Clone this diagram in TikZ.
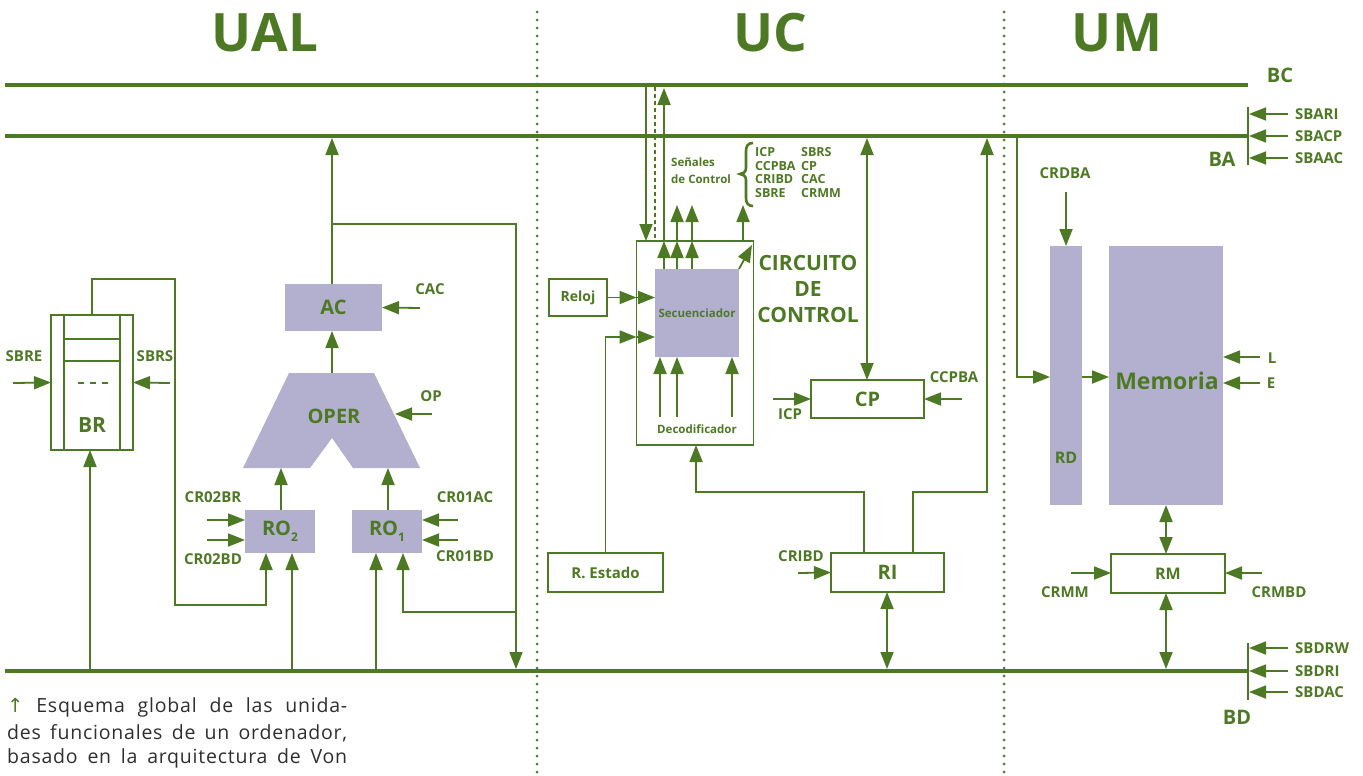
\documentclass[tikz,border=0pt]{standalone}
\usepackage{fontspec}
\setmainfont{Open Sans}
\newfontfamily\symfont{DejaVu Sans}
\usetikzlibrary{arrows.meta}
\definecolor{G}{HTML}{4E7924}
\definecolor{P}{HTML}{B3B0CF}
\definecolor{T}{HTML}{2E2E2E}
\newcommand{\myfs}[1]{\fontsize{#1}{#1}\selectfont}
\tikzset{
  conn/.style={draw=G, line width=1.8pt},
  arr/.style={conn, -{Triangle[length=17pt,width=13pt]}},
  darr/.style={conn, {Triangle[length=17pt,width=13pt]}-{Triangle[length=17pt,width=13pt]}},
  bus/.style={draw=G, line width=4.8pt},
  dots/.style={draw=G, line width=3pt, line cap=round, dash pattern=on 0pt off 8pt},
  wbox/.style={draw=G, line width=1.8pt, fill=white, inner sep=0pt, outer sep=0pt, text=G, font=\bfseries\myfs{20}},
  pbox/.style={fill=P, draw=none, inner sep=0pt, outer sep=0pt, text=G, font=\bfseries\myfs{20}},
  lbl/.style={text=G, font=\bfseries\myfs{15}, inner sep=0pt},
  slbl/.style={text=G, font=\bfseries\myfs{12.5}, inner sep=0pt, anchor=west},
  ttl/.style={text=G, font=\bfseries\myfs{53}, inner sep=0pt},
  captxt/.style={text=T, font=\myfs{19.5}\addfontfeatures{LetterSpace=4}, inner sep=0pt, anchor=west}
}
\begin{document}
\begin{tikzpicture}[x=1pt,y=-1pt]
\useasboundingbox (0,0) rectangle (1363,776);
% section separators
\draw[dots] (537,12) -- (537,776);
\draw[dots] (1004,12) -- (1004,776);
% titles
\node[ttl] (tUAL) at (265,33) {UAL};
\node[ttl] (tUC) at (770,33) {UC};
\node[ttl] (tUM) at (1117,33) {UM};
% buses
\coordinate (BCl) at (5,85); \coordinate (BCr) at (1248,85);
\coordinate (BAl) at (5,136); \coordinate (BAr) at (1248,136);
\coordinate (BDl) at (5,671); \coordinate (BDr) at (1248,671);
\draw[bus] (BCl) -- (BCr);
\draw[bus] (BAl) -- (BAr);
\draw[bus] (BDl) -- (BDr);
\node[lbl,font=\bfseries\myfs{20}] (lBC) at (1280,75) {BC};
\node[lbl,font=\bfseries\myfs{20}] (lBA) at (1222,159) {BA};
\node[lbl,font=\bfseries\myfs{20}] (lBD) at (1237,717) {BD};
% bus select signals
\coordinate (tA1) at (1248,107); \coordinate (tA2) at (1248,165);
\draw[conn] (tA1) -- (tA2);
\coordinate (tD1) at (1248,643); \coordinate (tD2) at (1248,700);
\draw[conn] (tD1) -- (tD2);
\foreach \yy/\nm in {114/SBARI,136/SBACP,158/SBAAC,648/SBDRW,671/SBDRI,692/SBDAC}{
  \coordinate (s\nm) at (1288,\yy);
  \draw[arr] (s\nm) -- (1249,\yy);
  \node[lbl,anchor=west] (l\nm) at (1295,\yy) {\nm};
}
% ================= UAL =================
\node[wbox, minimum width=82pt, minimum height=135pt] (BR) at (92,382.5) {};
\draw[conn] (64,315) -- (64,450);
\draw[conn] (120,315) -- (120,450);
\draw[conn] (64,339) -- (120,339);
\draw[conn] (64,361) -- (120,361);
\draw[conn, dash pattern=on 6pt off 6pt] (78,383) -- (108,383);
\node[lbl,font=\bfseries\myfs{21}] (lBR) at (92,425) {BR};
\coordinate (sbre) at (13,383);
\draw[arr] (sbre) -- (BR.west);
\coordinate (sbrs) at (170,383);
\draw[arr] (sbrs) -- (BR.east);
\node[lbl] (lSBRE) at (24,356) {SBRE};
\node[lbl] (lSBRS) at (155,356) {SBRS};
\draw[arr] (90,669) -- (BR.south -| 90,0);

\node[pbox, minimum width=97pt, minimum height=47pt] (AC) at (333.5,307.5) {AC};
\fill[P] (289,373) -- (374,373) -- (420,468) -- (353,468) -- (332,438) -- (310,468) -- (243,468) -- cycle;
\node[lbl,font=\bfseries\myfs{20}] (OPER) at (334,416) {OPER};
\coordinate (optop) at (332,373);
\coordinate (opl) at (281,468);
\coordinate (opr) at (388,468);
\node[pbox, minimum width=70pt, minimum height=43pt] (RO2) at (280,531.5) {RO\raisebox{-0.3em}{\myfs{12}2}};
\node[pbox, minimum width=70pt, minimum height=43pt] (RO1) at (387,531.5) {RO\raisebox{-0.3em}{\myfs{12}1}};

\draw[arr] (optop) -- (AC.south -| 332,0);
\draw[arr] (RO2.north -| 281,0) -- (opl);
\draw[arr] (RO1.north -| 388,0) -- (opr);
\draw[arr] (AC.north -| 332,0) -- (332,138);
\draw[arr] (332,224) -- (516,224) -- (516,669);
\draw[arr] (516,612) -- (403,612) -- (RO1.south -| 403,0);
\draw[arr] (BR.north -| 92,0) -- (92,279) -- (175,279) -- (175,605) -- (266,605) -- (RO2.south -| 266,0);
\draw[arr] (292,669) -- (RO2.south -| 292,0);
\draw[arr] (376,669) -- (RO1.south -| 376,0);
% control inputs
\draw[arr] (420,308) -- (AC.east);
\node[lbl] (lCAC) at (430,289) {CAC};
\draw[arr] (432,414) -- (395,414);
\node[lbl] (lOP) at (431,396) {OP};
\draw[arr] (207,520) -- (RO2.west |- 0,520);
\draw[arr] (207,540) -- (RO2.west |- 0,540);
\node[lbl] (lCR02BR) at (213,497) {CR02BR};
\node[lbl] (lCR02BD) at (213,559) {CR02BD};
\draw[arr] (458,520) -- (RO1.east |- 0,520);
\draw[arr] (458,540) -- (RO1.east |- 0,540);
\node[lbl] (lCR01AC) at (465,497) {CR01AC};
\node[lbl] (lCR01BD) at (465,556) {CR01BD};
% ================= UC =================
\node[wbox, minimum width=117pt, minimum height=204pt] (CC) at (695,343) {};
\node[pbox, minimum width=84pt, minimum height=88pt, font=\bfseries\myfs{11.5}] (Sec) at (697,313) {Secuenciador};
\node[lbl,font=\bfseries\myfs{11.5}] (lDec) at (697,429) {Decodificador};
\foreach \xx in {660,677,732}{ \draw[arr] (\xx,417) -- (Sec.south -| \xx,0); }
\foreach \xx in {664,677,692}{ \draw[arr] (Sec.north -| \xx,0) -- (CC.north -| \xx,0); }
\draw[arr] (CC.north -| 664,0) -- (664,88);
\draw[arr] (646,87) -- (CC.north -| 646,0);
\draw[draw=G, line width=1.5pt, dash pattern=on 4pt off 3pt] (655,87) -- (CC.north -| 655,0);
\foreach \xx in {677,692,743}{ \draw[arr] (CC.north -| \xx,0) -- (\xx,205); }
\draw[arr] (Sec.north east) -- (752,245);
% brace and control signal list
\draw[G, line width=2.6pt] (753,143) .. controls (748,143) and (746,146) .. (746,151) -- (746,168) .. controls (746,172) and (743,174) .. (740,174) .. controls (743,174) and (746,176) .. (746,180) -- (746,198) .. controls (746,203) and (748,206) .. (753,206);
\node[slbl, font=\bfseries\myfs{11.5}] (lSen1) at (671,162) {Señales};
\node[slbl, font=\bfseries\myfs{11.5}] (lSen2) at (671,179) {de Control};
\node[slbl] (c1) at (755,152) {ICP};
\node[slbl] (c2) at (755,166) {CCPBA};
\node[slbl] (c3) at (755,179) {CRIBD};
\node[slbl] (c4) at (755,193) {SBRE};
\node[slbl] (c5) at (801,152) {SBRS};
\node[slbl] (c6) at (801,166) {CP};
\node[slbl] (c7) at (801,179) {CAC};
\node[slbl] (c8) at (801,193) {CRMM};
\node[lbl,font=\bfseries\myfs{21}, align=center] (lCirc) at (808,289) {CIRCUITO\\[5pt]DE\\[5pt]CONTROL};
% Reloj, R. Estado
\node[wbox, minimum width=58pt, minimum height=37pt, font=\bfseries\myfs{14}] (Reloj) at (578,297.5) {Reloj};
\draw[arr] (Reloj.east) -- (CC.west |- Reloj.east);
\draw[arr] (CC.west |- Reloj.east) -- (Sec.west |- Reloj.east);
\node[wbox, minimum width=115pt, minimum height=39pt, font=\bfseries\myfs{15}] (REst) at (605.5,572.5) {R. Estado};
\draw[arr] (REst.north) -- (605.5,337) -- (CC.west |- 0,337);
\draw[arr] (CC.west |- 0,337) -- (Sec.west |- 0,337);
% RI
\node[wbox, minimum width=113pt, minimum height=39pt] (RI) at (887.5,572.5) {RI};
\draw[arr] (798,573) -- (RI.west);
\node[lbl] (lCRIBD) at (801,556) {CRIBD};
\draw[darr] (RI.south -| 887,0) -- (887,669);
\draw[arr] (RI.north -| 864,0) -- (864,492) -- (696,492) -- (CC.south -| 696,0);
\draw[arr] (RI.north -| 913,0) -- (913,492) -- (987,492) -- (987,138);
% CP
\node[wbox, minimum width=113pt, minimum height=38pt] (CP) at (867.5,399) {CP};
\draw[darr] (867,138) -- (CP.north -| 867,0);
\draw[arr] (773,399) -- (CP.west);
\node[lbl] (lICP) at (790,414) {ICP};
\draw[arr] (962,399) -- (CP.east);
\node[lbl] (lCCPBA) at (954,377) {CCPBA};
% ================= UM =================
\node[pbox, minimum width=32pt, minimum height=259pt] (RD) at (1066,375.5) {};
\node[lbl,font=\bfseries\myfs{16}] (lRD) at (1066,458) {RD};
\node[pbox, minimum width=114pt, minimum height=259pt] (Mem) at (1166,375.5) {};
\node[lbl,font=\bfseries\myfs{23}] (lMem) at (1167,381) {Memoria};
\draw[arr] (1017,138) -- (1017,377) -- (RD.west |- 0,377);
\draw[arr] (RD.east |- 0,377) -- (Mem.west |- 0,377);
\draw[arr] (1066,192) -- (RD.north);
\node[lbl] (lCRDBA) at (1065,173) {CRDBA};
\draw[arr] (1260,357) -- (Mem.east |- 0,357);
\draw[arr] (1260,383) -- (Mem.east |- 0,383);
\node[lbl] (lL) at (1272,358) {L};
\node[lbl] (lE) at (1271,383) {E};
\node[wbox, minimum width=114pt, minimum height=39pt, font=\bfseries\myfs{16}] (RM) at (1168,573.5) {RM};
\draw[darr] (Mem.south -| 1166,0) -- (RM.north -| 1166,0);
\draw[darr] (RM.south -| 1166,0) -- (1166,669);
\draw[arr] (1071,573) -- (RM.west |- 0,573);
\draw[arr] (1262,573) -- (RM.east |- 0,573);
\node[lbl] (lCRMM) at (1065,592) {CRMM};
\node[lbl] (lCRMBD) at (1279,592) {CRMBD};
% caption
\node[captxt] (cap1) at (7,707) {\makebox[340pt][s]{{\symfont\color{G}↑} Esquema global de las unida-}};
\node[captxt] (cap2) at (7,733) {\makebox[340pt][s]{des funcionales de un ordenador,}};
\node[captxt] (cap3) at (7,758) {\makebox[340pt][s]{basado en la arquitectura de Von}};
\end{tikzpicture}
\end{document}
